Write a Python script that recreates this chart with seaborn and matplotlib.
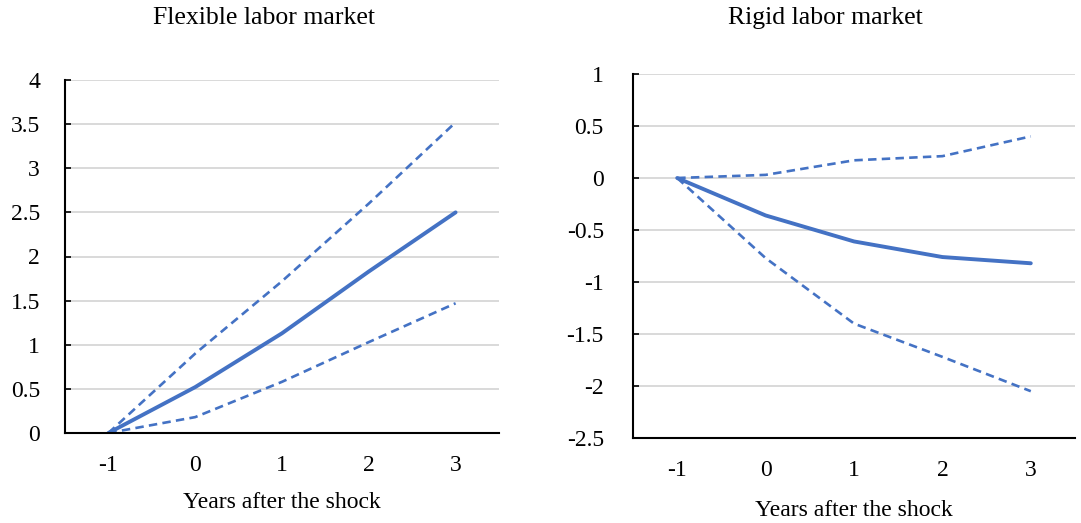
import matplotlib
matplotlib.use("Agg")
import matplotlib.pyplot as plt
import seaborn as sns
import pandas as pd
import numpy as np

years = ["-1", "0", "1", "2", "3"]

flex_mid = [0.0, 0.52, 1.13, 1.83, 2.50]
flex_up = [0.0, 0.90, 1.72, 2.60, 3.52]
flex_lo = [0.0, 0.18, 0.58, 1.03, 1.47]

rigid_mid = [0.0, -0.36, -0.61, -0.76, -0.82]
rigid_up = [0.0, 0.03, 0.17, 0.21, 0.40]
rigid_lo = [0.0, -0.77, -1.40, -1.72, -2.05]

flex_yticks = [0, 0.5, 1, 1.5, 2, 2.5, 3, 3.5, 4]
rigid_yticks = [-2.5, -2, -1.5, -1, -0.5, 0, 0.5, 1]

sns.set_theme(style="white")
plt.rcParams['font.family'] = ['Liberation Serif', 'DejaVu Serif']
plt.rcParams['text.color'] = 'black'
plt.rcParams['xtick.color'] = 'black'
plt.rcParams['ytick.color'] = 'black'
plt.rcParams['xtick.labelcolor'] = 'black'
plt.rcParams['ytick.labelcolor'] = 'black'

COLOR = "#4472C4"
FS = 17

fig = plt.figure(figsize=(10.81, 5.23), dpi=100)
ax1 = fig.add_axes([65/1081, 1-433/523, (499-65)/1081, (433-80)/523])
ax2 = fig.add_axes([633/1081, 1-438/523, (1075-633)/1081, (438-74)/523])


def draw(ax, mid, up, lo, yticks, title_x, title, xlabel_y, ypad):
    pos = np.arange(len(years))
    df = pd.DataFrame({"pos": pos, "mid": mid, "up": up, "lo": lo})
    sns.lineplot(data=df, x="pos", y="up", ax=ax, color=COLOR, lw=1.9,
                 linestyle=(0, (3.2, 2.0)))
    sns.lineplot(data=df, x="pos", y="lo", ax=ax, color=COLOR, lw=1.9,
                 linestyle=(0, (3.2, 2.0)))
    sns.lineplot(data=df, x="pos", y="mid", ax=ax, color=COLOR, lw=2.8,
                 solid_capstyle="round")
    ax.set_xlim(-0.5, len(years) - 0.5)
    ax.set_ylim(yticks[0], yticks[-1])
    ax.set_yticks(yticks)
    ax.set_yticklabels([f"{t:g}" for t in yticks], fontsize=FS)
    ax.set_xticks(pos)
    ax.set_xticklabels(years, fontsize=FS)
    ax.set_xticks(np.arange(-0.5, len(years)), minor=True)
    ax.tick_params(axis="x", which="major", length=0, pad=16)
    ax.tick_params(axis="x", which="minor", direction="in", length=4,
                   width=1.2, color="black")
    ax.tick_params(axis="y", which="major", direction="in", length=4,
                   width=1.2, color="black", pad=ypad, left=True)
    ax.yaxis.grid(True, color="#d9d9d9", lw=1.4)
    ax.xaxis.grid(False)
    ax.set_axisbelow(True)
    for s in ["top", "right"]:
        ax.spines[s].set_visible(False)
    for s in ["left", "bottom"]:
        ax.spines[s].set_color("black")
        ax.spines[s].set_linewidth(1.5)
    ax.set_xlabel("")
    ax.set_ylabel("")
    bbox = ax.get_position()
    fig.text((bbox.x0 + bbox.x1) / 2, 1 - xlabel_y / 523, "Years after the shock",
             ha="center", va="center", fontsize=FS, color="black")
    fig.text(title_x / 1081, 1 - 18 / 523, title, ha="center", va="center",
             fontsize=18.5, color="black")


draw(ax1, flex_mid, flex_up, flex_lo, flex_yticks, 264, "Flexible labor market", 503, 18)
draw(ax2, rigid_mid, rigid_up, rigid_lo, rigid_yticks, 825, "Rigid labor market", 510, 21)

fig.savefig("out.png", dpi=100)
